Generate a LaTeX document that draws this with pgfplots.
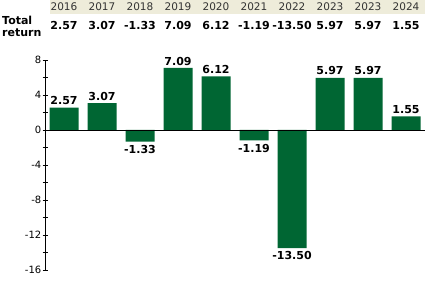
\documentclass[border=0pt]{standalone}
\usepackage{pgfplots}
\pgfplotsset{compat=1.18}
\usepackage{fontspec}
\setmainfont{DejaVu Sans}
\definecolor{bargreen}{RGB}{0,102,51}
\definecolor{band}{RGB}{238,236,218}
\definecolor{yeartext}{RGB}{51,51,51}
\begin{document}
\begin{tikzpicture}[x=1pt,y=1pt]
\path[use as bounding box] (0,0) rectangle (425,288);
% header band
\fill[band] (50,274) rectangle (425,288);
\foreach \yr [count=\i from 0] in {2016,2017,2018,2019,2020,2021,2022,2023,2023,2024}{
  \node[font=\fontsize{10.5}{12}\selectfont, text=yeartext, inner sep=0pt] at ({64+38*\i},281) {\yr};
}
\foreach \v [count=\i from 0] in {2.57,3.07,-1.33,7.09,6.12,-1.19,-13.50,5.97,5.97,1.55}{
  \node[font=\fontsize{11}{12}\selectfont\bfseries, inner sep=0pt] at ({64+38*\i},262) {\v};
}
\node[font=\fontsize{11}{12}\selectfont\bfseries, anchor=west, inner sep=0pt] at (2,268) {Total};
\node[font=\fontsize{11}{12}\selectfont\bfseries, anchor=west, inner sep=0pt] at (2,255) {return};
\begin{axis}[
  at={(45pt,18pt)}, anchor=south west,
  scale only axis, width=380pt, height=210pt,
  xmin=-0.5, xmax=9.5, ymin=-16, ymax=8,
  axis x line=none, axis y line=left,
  axis line style={black, -},
  y axis line style={-},
  ytick={-16,-12,-8,-4,0,4,8},
  minor ytick={-14,-10,-6,-2,2,6},
  tick align=center, major tick length=5pt, minor tick length=5pt,
  tick style={black, line width=0.8pt},
  yticklabel style={font=\fontsize{10}{12}\selectfont, inner sep=1pt},
  /pgf/number format/assume math mode=true,
  clip=false,
  ybar, bar width=29pt, bar shift=0pt,
  nodes near coords={\pgfplotspointmeta},
  point meta=explicit symbolic,
  every node near coord/.append style={font=\fontsize{11}{12}\selectfont\bfseries},
]
\addplot[fill=bargreen, draw=none,
  every node near coord/.append style={anchor=south, inner sep=2.5pt}] coordinates {
(0,2.57) [2.57]
(1,3.07) [3.07]
(3,7.09) [7.09]
(4,6.12) [6.12]
(7,5.97) [5.97]
(8,5.97) [5.97]
(9,1.55) [1.55]
};
\addplot[fill=bargreen, draw=none,
  every node near coord/.append style={anchor=north, inner sep=3.5pt}] coordinates {
(2,-1.33) [-1.33]
(5,-1.19) [-1.19]
(6,-13.50) [-13.50]
};
\draw[black, line width=0.8pt] (axis cs:-0.5,0) -- (axis cs:9.5,0);
\end{axis}
\end{tikzpicture}
\end{document}
